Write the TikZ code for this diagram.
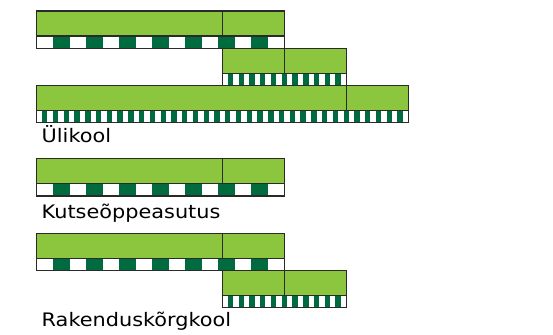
\documentclass[tikz,border=0pt]{standalone}
\usepackage{fontspec}
\setmainfont{DejaVu Sans}[FakeStretch=1.12]
\definecolor{ridagreen}{HTML}{8CC63F}
\definecolor{ruutgreen}{HTML}{006B3F}
\definecolor{piir}{HTML}{2A2A2A}
\tikzset{
  piirjoon/.style={draw=piir,line width=1.1pt},
  silt/.style={anchor=base west,inner sep=0pt,font=\fontsize{18.6}{19}\selectfont}
}
% \ribbon{x left}{x right}{x divider}{y top}{cells}
\newcommand{\ribbon}[5]{%
  \fill[ridagreen] (#1,#4) rectangle (#2,#4+25);
  \fill[white] (#1,#4+25) rectangle (#2,#4+37.3);
  \pgfmathsetmacro{\cw}{(#2-#1)/#5}
  \pgfmathtruncatemacro{\last}{#5-2}
  \foreach \i in {1,3,...,\last}
    \fill[ruutgreen] ({#1+\i*\cw},#4+25) rectangle ({#1+(\i+1)*\cw},#4+37.3);
  \draw[piirjoon] (#1,#4) rectangle (#2,#4+37.3);
  \draw[piirjoon] (#1,#4+25) -- (#2,#4+25);
  \draw[piirjoon] (#3,#4) -- (#3,#4+25);
}

\begin{document}
\begin{tikzpicture}[x=1pt,y=-1pt]
\useasboundingbox (0,0) rectangle (553,334);
% Ülikool
\ribbon{36.7}{284.3}{222.4}{11}{15}
\ribbon{222.4}{346.2}{284.3}{48.3}{23}
\ribbon{36.7}{408.1}{346.2}{85.6}{69}
\node[silt] (ylikool) at (41.5,142.5) {Ülikool};
% Kutseõppeasutus
\ribbon{36.7}{284.3}{222.4}{158.7}{15}
\node[silt] (kutse) at (41.5,218.3) {Kutseõppeasutus};
% Rakenduskõrgkool
\ribbon{36.7}{284.3}{222.4}{233.3}{15}
\ribbon{222.4}{346.2}{284.3}{270.6}{23}
\node[silt] (rakendus) at (41.5,326.7) {Rakenduskõrgkool};
\end{tikzpicture}
\end{document}
